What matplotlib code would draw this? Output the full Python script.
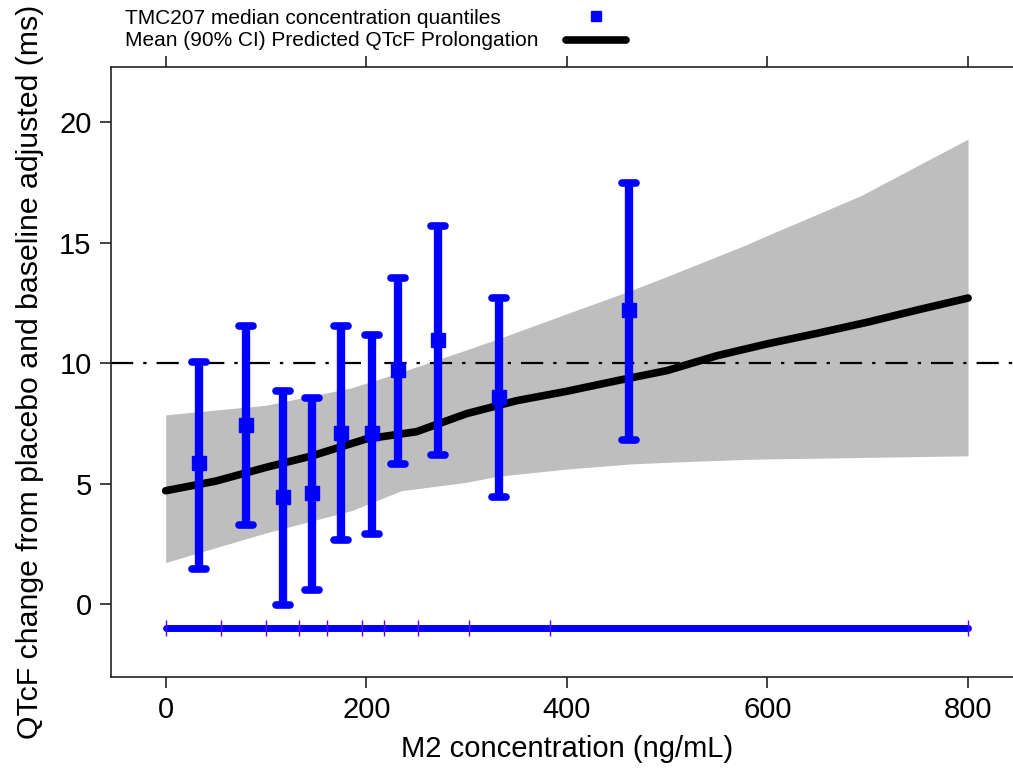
import numpy as np
import matplotlib.pyplot as plt
from matplotlib.lines import Line2D
from matplotlib.markers import MarkerStyle

plt.rcParams['font.family'] = ['Liberation Sans', 'DejaVu Sans']

# Predicted mean QTcF prolongation and 90% CI band
conc_grid = [0, 50, 100, 146, 200, 250, 300, 350, 400, 450, 500, 550, 600, 650, 700, 750, 800]
pred_mean = [4.70, 5.10, 5.67, 6.15, 6.85, 7.15, 7.90, 8.44, 8.83, 9.27, 9.69, 10.31, 10.80, 11.24, 11.70, 12.21, 12.70]
band_x = [0, 100, 185, 235, 300, 331, 400, 463, 500, 578, 600, 693, 800]
band_upper = [7.85, 8.25, 8.97, 9.63, 10.55, 11.0, 12.05, 13.0, 13.6, 14.9, 15.3, 16.95, 19.3]
band_lower = [1.72, 2.95, 3.87, 4.70, 5.05, 5.30, 5.60, 5.81, 5.88, 6.00, 6.02, 6.08, 6.15]

# Observed: median concentration per quantile with mean (90% CI)
quant_conc = [33, 80, 117, 146, 175, 206, 232, 272, 332, 462]
obs_mean = [5.86, 7.43, 4.45, 4.59, 7.10, 7.08, 9.72, 10.97, 8.61, 12.21]
obs_low = [1.47, 3.27, -0.05, 0.57, 2.65, 2.92, 5.83, 6.19, 4.45, 6.81]
obs_high = [10.06, 11.52, 8.83, 8.55, 11.52, 11.17, 13.55, 15.70, 12.70, 17.49]

# Quantile boundaries (rug)
quant_breaks = [0, 55, 100, 133, 161, 196, 218, 252, 302, 383, 800]
rug_y = -1.0
threshold = 10

fig = plt.figure(figsize=(10.13, 7.70), dpi=100)
ax = fig.add_axes([0.1096, 0.1212, 0.900, 0.7914])

ax.fill_between(band_x, band_lower, band_upper, color='#BEBEBE', linewidth=0, zorder=1)
ax.plot(conc_grid, pred_mean, color='black', lw=5.5, solid_capstyle='round', zorder=3)
ax.axhline(threshold, color='black', lw=1.6, dashes=(10, 4.5, 1.5, 4.5), zorder=2)

m = np.array(obs_mean)
yerr = [m - np.array(obs_low), np.array(obs_high) - m]
eb = ax.errorbar(quant_conc, obs_mean, yerr=yerr, fmt='s', color='blue', ms=10.5, elinewidth=6,
                 capsize=5, capthick=5.5, zorder=4)
for cl in eb[1]:
    cl.set_marker(MarkerStyle('_', capstyle='round'))

ax.plot([quant_breaks[0], quant_breaks[-1]], [rug_y, rug_y], color='blue', lw=5,
        solid_capstyle='round', zorder=4)
ax.vlines(quant_breaks, rug_y - 0.33, rug_y + 0.33, color='#5a00ff', lw=1, zorder=5)

ax.set_xlim(-54.5, 854.5)
ax.set_ylim(-3.02, 22.28)
ax.set_xticks([0, 200, 400, 600, 800])
ax.set_yticks([0, 5, 10, 15, 20])
ax.tick_params(axis='both', direction='out', length=8, width=1.2, colors='#222222',
               labelsize=21, labelcolor='black')
ax.tick_params(axis='x', top=True, pad=6)
ax.tick_params(axis='y', pad=6)
for s in ax.spines.values():
    s.set_linewidth(1.2)
    s.set_color('#222222')

ax.set_xlabel('M2 concentration (ng/mL)', fontsize=21, labelpad=8)
ax.set_ylabel('QTcF change from placebo and baseline adjusted (ms)', fontsize=21.8, labelpad=11)

# legend above the panel
fig.text(125 / 1013, 1 - 18 / 770, 'TMC207 median concentration quantiles', fontsize=15,
         va='center', ha='left')
fig.text(125 / 1013, 1 - 41 / 770, 'Mean (90% CI) Predicted QTcF Prolongation', fontsize=15,
         va='center', ha='left')
fig.add_artist(Line2D([596 / 1013], [1 - 16 / 770], marker='s', ms=7, color='blue', lw=0))
fig.add_artist(Line2D([566 / 1013, 626 / 1013], [1 - 40 / 770, 1 - 40 / 770], color='black',
                      lw=5.5, solid_capstyle='round'))

fig.savefig('out.png', dpi=100)
